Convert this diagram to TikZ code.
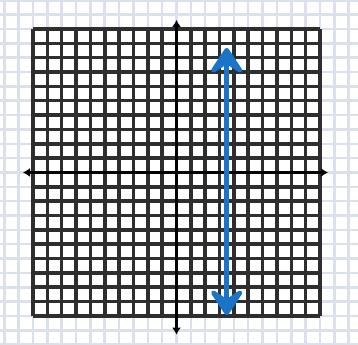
\documentclass[tikz,border=0pt]{standalone}
\usepackage{tikz}
\usetikzlibrary{arrows.meta}
\definecolor{paleblue}{HTML}{DCE0EC}
\definecolor{lineblue}{HTML}{1A75C9}

\begin{document}
\begin{tikzpicture}[x=0.5cm, y=0.5cm,
    faint/.style={paleblue, line width=2.5pt, step=0.5cm},
    dark/.style={black!82, line width=3.5pt, step=0.5cm},
    axis/.style={black, line width=2.5pt, {Latex[length=7pt,width=9pt]}-{Latex[length=7pt,width=9pt]}},
    vline/.style={lineblue, line width=5pt, {Stealth[length=32pt,width=42pt,inset=14pt,round,line width=5pt]}-{Stealth[length=32pt,width=42pt,inset=14pt,round,line width=5pt]}}]
  \clip (-12.3,-12.02) rectangle (12.65,12.02);
  \fill[white] (-12.3,-12.02) rectangle (12.65,12.02);
  \draw[faint] (-13,-13) grid (13,13);
  \fill[white] (-10,-10) rectangle (10,10);
  \draw[dark] (-10,-10) grid (10,10);

  \coordinate (xmin) at (-10.7,0);
  \coordinate (xmax) at (10.56,0);
  \coordinate (ymin) at (0,-11.3);
  \coordinate (ymax) at (0,10.63);
  \coordinate (bottom) at (3.5,-9.95);
  \coordinate (top) at (3.5,8.68);

  \draw[axis] (xmin) -- (xmax);
  \draw[axis] (ymin) -- (ymax);
  \draw[vline] (bottom) -- (top);
\end{tikzpicture}
\end{document}
